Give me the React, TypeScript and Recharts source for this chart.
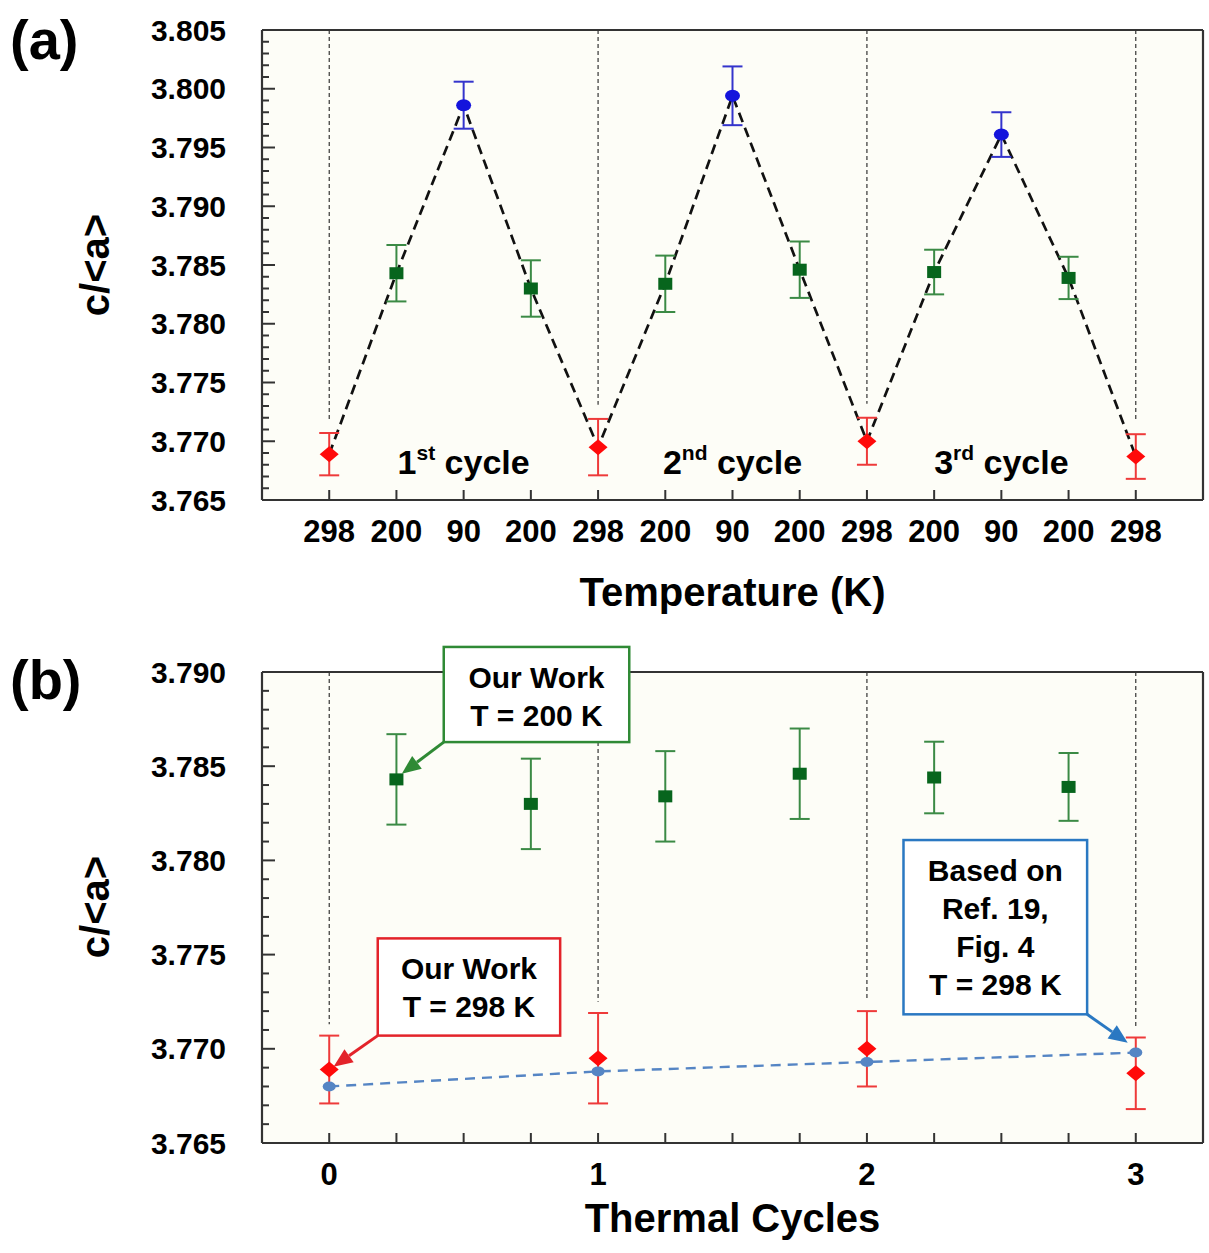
import React from 'react';
import {
  ComposedChart,
  Line,
  Scatter,
  XAxis,
  YAxis,
  ErrorBar,
  ReferenceLine,
  ReferenceArea,
  ReferenceDot,
  CartesianGrid,
} from 'recharts';

const FONT = '"Liberation Sans", Arial, Helvetica, sans-serif';

// ---------- data ----------
const tempLabels = ['298', '200', '90', '200', '298', '200', '90', '200', '298', '200', '90', '200', '298'];
const caValues = [3.7689, 3.7843, 3.7986, 3.783, 3.7695, 3.7834, 3.7994, 3.7846, 3.77, 3.7844, 3.7961, 3.7839, 3.7687];
const caErrors = [0.0018, 0.0024, 0.002, 0.0024, 0.0024, 0.0024, 0.0025, 0.0024, 0.002, 0.0019, 0.0019, 0.0018, 0.0019];

const topYTicks = [3.765, 3.77, 3.775, 3.78, 3.785, 3.79, 3.795, 3.8, 3.805];
const topYLabels = ['3.765', '3.770', '3.775', '3.780', '3.785', '3.790', '3.795', '3.800', '3.805'];
const bottomYTicks = [3.765, 3.77, 3.775, 3.78, 3.785, 3.79];
const bottomYLabels = ['3.765', '3.770', '3.775', '3.780', '3.785', '3.790'];

const cycleTicks = [0, 1, 2, 3];
const cycleTickLabels = ['0', '1', '2', '3'];
const cycles298 = [0, 1, 2, 3];
const cycles200 = [0.25, 0.75, 1.25, 1.75, 2.25, 2.75];
const refValues = [3.768, 3.7688, 3.7693, 3.7698];

const cycleNumbers = ['1', '2', '3'];
const cycleSuffixes = ['st', 'nd', 'rd'];
const cycleCenters = [2, 6, 10];

// ---------- derived tables ----------
const topData = tempLabels.map((t, i) => ({ idx: i, t, v: caValues[i], e: caErrors[i] }));
const top298 = topData.filter((d) => d.t === '298');
const top200 = topData.filter((d) => d.t === '200');
const top90 = topData.filter((d) => d.t === '90');

const bot298 = cycles298.map((x, i) => ({ idx: x, v: top298[i].v, e: top298[i].e }));
const bot200 = cycles200.map((x, i) => ({ idx: x, v: top200[i].v, e: top200[i].e }));
const botRef = cycles298.map((x, i) => ({ idx: x, v: refValues[i] }));

function minorTicks(lo: number, hi: number, step: number) {
  const out: number[] = [];
  const n = Math.round((hi - lo) / step);
  for (let i = 0; i <= n; i++) out.push(Math.round((lo + i * step) * 10000) / 10000);
  return out;
}
const topYAll = minorTicks(3.765, 3.805, 0.001);
const botYAll = minorTicks(3.765, 3.79, 0.001);
const botXAll = minorTicks(0, 3, 0.25);

// ---------- styles ----------
const AXIS = '#333333';
const AXIS_W = 2.2;
const RED = '#ff0a0a';
const RED_ERR = '#ee3a3a';
const GREEN = '#07651d';
const GREEN_ERR = '#3b8a45';
const BLUE = '#1414dc';
const BLUE_ERR = '#3434cc';
const REF_BLUE = '#5585c4';
const PLOT_BG = '#fdfdf7';

// ---------- shapes ----------
const Diamond = (p: any) => {
  const { cx, cy } = p;
  if (cx == null || cy == null) return null;
  return <polygon points={`${cx},${cy - 8} ${cx + 9.5},${cy} ${cx},${cy + 8} ${cx - 9.5},${cy}`} fill={RED} />;
};
const Square = (p: any) => {
  const { cx, cy } = p;
  if (cx == null || cy == null) return null;
  return <rect x={cx - 7} y={cy - 6} width={14} height={12} fill={GREEN} />;
};
const Circle = (p: any) => {
  const { cx, cy } = p;
  if (cx == null || cy == null) return null;
  return <ellipse cx={cx} cy={cy} rx={7.5} ry={6} fill={BLUE} />;
};
const RefDot = (p: any) => {
  const { cx, cy } = p;
  if (cx == null || cy == null) return null;
  return <ellipse cx={cx} cy={cy} rx={6.5} ry={5} fill={REF_BLUE} />;
};

// ---------- ticks ----------
const makeYLeftTick = (majors: number[], labels: string[]) => (props: any) => {
  const { x, y, payload } = props;
  const v = payload.value;
  const mi = majors.findIndex((m) => Math.abs(m - v) < 1e-7);
  const major = mi >= 0;
  return (
    <g>
      <line x1={x} y1={y} x2={x + (major ? 13 : 7)} y2={y} stroke={AXIS} strokeWidth={2} />
      {major && (
        <text x={x - 36} y={y} textAnchor="end" dominantBaseline="central" fontFamily={FONT} fontWeight="bold" fontSize={30} fill="#000">
          {labels[mi]}
        </text>
      )}
    </g>
  );
};
const makeYRightTick = (majors: number[]) => (props: any) => {
  const { x, y, payload } = props;
  const major = majors.some((m) => Math.abs(m - payload.value) < 1e-7);
  return <line x1={x} y1={y} x2={x - (major ? 13 : 7)} y2={y} stroke={AXIS} strokeWidth={2} />;
};
const makeXBottomTick = (labelFor: (v: number) => string | null) => (props: any) => {
  const { x, y, payload } = props;
  const lab = labelFor(payload.value);
  return (
    <g>
      <line x1={x} y1={y} x2={x} y2={y - 10} stroke={AXIS} strokeWidth={2} />
      {lab != null && (
        <text x={x} y={y + 42} textAnchor="middle" fontFamily={FONT} fontWeight="bold" fontSize={31} fill="#000">
          {lab}
        </text>
      )}
    </g>
  );
};
const XTopTick = (props: any) => {
  const { x, y } = props;
  return <line x1={x} y1={y} x2={x} y2={y + 10} stroke={AXIS} strokeWidth={2} />;
};

const dashedGuide = (p: any) => (
  <line x1={p.x1} y1={p.y1} x2={p.x2} y2={p.y2} stroke="#222" strokeWidth={1.1} strokeDasharray="4 3" />
);

const makeArrow = (color: string) => (p: any) => {
  const { x1, y1, x2, y2 } = p;
  if ([x1, y1, x2, y2].some((v) => v == null)) return null;
  const dx = x2 - x1;
  const dy = y2 - y1;
  const len = Math.sqrt(dx * dx + dy * dy);
  const ux = dx / len;
  const uy = dy / len;
  const hl = 19;
  const hw = 8;
  const bx = x2 - ux * hl;
  const by = y2 - uy * hl;
  return (
    <g>
      <line x1={x1} y1={y1} x2={bx} y2={by} stroke={color} strokeWidth={3} />
      <polygon points={`${x2},${y2} ${bx - uy * hw},${by + ux * hw} ${bx + uy * hw},${by - ux * hw}`} fill={color} />
    </g>
  );
};

const makeBox = (color: string, lines: string[]) => (p: any) => {
  const { x, y, width, height } = p;
  if (x == null) return null;
  return (
    <g>
      <rect x={x} y={y} width={width} height={height} fill="#ffffff" stroke={color} strokeWidth={2.5} />
      {lines.map((l, i) => (
        <text key={i} x={x + width / 2} y={y + 41 + i * 38} textAnchor="middle" fontFamily={FONT} fontWeight="bold" fontSize={30} fill="#000">
          {l}
        </text>
      ))}
    </g>
  );
};

const makeCycleLabel = (num: string, sup: string) => (p: any) => {
  const { cx, cy } = p;
  if (cx == null) return null;
  return (
    <text x={cx} y={cy} textAnchor="middle" fontFamily={FONT} fontWeight="bold" fontSize={34} fill="#000">
      {num}
      <tspan fontSize={21} dy={-14}>{sup}</tspan>
      <tspan dy={14}> cycle</tspan>
    </text>
  );
};

const titleStyle: React.CSSProperties = {
  position: 'absolute',
  fontFamily: FONT,
  fontWeight: 'bold',
  color: '#000',
  whiteSpace: 'nowrap',
  lineHeight: 1,
};

function TopChart() {
  return (
    <ComposedChart width={1209} height={630} margin={{ top: 0, right: 0, bottom: 0, left: 0 }}>
      <CartesianGrid fill={PLOT_BG} stroke="none" horizontal={false} vertical={false} />
      <XAxis
        xAxisId={0}
        dataKey="idx"
        type="number"
        orientation="bottom"
        height={130}
        domain={[-1, 13]}
        ticks={topData.map((d) => d.idx)}
        interval={0}
        tickSize={0}
        tickMargin={0}
        tickLine={false}
        axisLine={{ stroke: AXIS, strokeWidth: AXIS_W }}
        tick={makeXBottomTick((v) => tempLabels[v] ?? null)}
      />
      <XAxis
        xAxisId="t"
        dataKey="idx"
        type="number"
        orientation="top"
        height={30}
        domain={[-1, 13]}
        ticks={topData.map((d) => d.idx)}
        interval={0}
        tickSize={0}
        tickMargin={0}
        tickLine={false}
        axisLine={{ stroke: AXIS, strokeWidth: AXIS_W }}
        tick={XTopTick}
      />
      <YAxis
        yAxisId={0}
        dataKey="v"
        type="number"
        orientation="left"
        width={262}
        domain={[3.765, 3.805]}
        ticks={topYAll}
        interval={0}
        tickSize={0}
        tickMargin={0}
        tickLine={false}
        axisLine={{ stroke: AXIS, strokeWidth: AXIS_W }}
        tick={makeYLeftTick(topYTicks, topYLabels)}
      />
      <YAxis
        yAxisId="r"
        dataKey="v"
        type="number"
        orientation="right"
        width={6}
        domain={[3.765, 3.805]}
        ticks={topYAll}
        interval={0}
        tickSize={0}
        tickMargin={0}
        tickLine={false}
        axisLine={{ stroke: AXIS, strokeWidth: AXIS_W }}
        tick={makeYRightTick(topYTicks)}
      />
      {top298.map((d) => (
        <ReferenceLine
          key={'g' + d.idx}
          segment={[
            { x: d.idx, y: 3.805 },
            { x: d.idx, y: d.v + d.e + 0.0012 },
          ]}
          shape={dashedGuide}
        />
      ))}
      <Line
        data={topData}
        dataKey="v"
        stroke="#111"
        strokeWidth={2.7}
        strokeDasharray="10 6"
        dot={false}
        activeDot={false}
        isAnimationActive={false}
      />
      <Scatter data={top298} dataKey="v" shape={Diamond} isAnimationActive={false}>
        <ErrorBar dataKey="e" direction="y" width={10} stroke={RED_ERR} strokeWidth={2} />
      </Scatter>
      <Scatter data={top200} dataKey="v" shape={Square} isAnimationActive={false}>
        <ErrorBar dataKey="e" direction="y" width={10} stroke={GREEN_ERR} strokeWidth={2} />
      </Scatter>
      <Scatter data={top90} dataKey="v" shape={Circle} isAnimationActive={false}>
        <ErrorBar dataKey="e" direction="y" width={10} stroke={BLUE_ERR} strokeWidth={2} />
      </Scatter>
      {cycleCenters.map((c, i) => (
        <ReferenceDot key={'c' + i} x={c} y={3.7672} r={0} shape={makeCycleLabel(cycleNumbers[i], cycleSuffixes[i])} />
      ))}
    </ComposedChart>
  );
}

function BottomChart() {
  return (
    <ComposedChart width={1209} height={613} margin={{ top: 0, right: 0, bottom: 0, left: 0 }}>
      <CartesianGrid fill={PLOT_BG} stroke="none" horizontal={false} vertical={false} />
      <XAxis
        xAxisId={0}
        dataKey="idx"
        type="number"
        orientation="bottom"
        height={110}
        domain={[-0.25, 3.25]}
        ticks={botXAll}
        interval={0}
        tickSize={0}
        tickMargin={0}
        tickLine={false}
        axisLine={{ stroke: AXIS, strokeWidth: AXIS_W }}
        tick={makeXBottomTick((v) => {
          const i = cycleTicks.indexOf(v);
          return i >= 0 ? cycleTickLabels[i] : null;
        })}
      />
      <XAxis
        xAxisId="t"
        dataKey="idx"
        type="number"
        orientation="top"
        height={32}
        domain={[-0.25, 3.25]}
        ticks={botXAll}
        interval={0}
        tickSize={0}
        tickMargin={0}
        tickLine={false}
        axisLine={{ stroke: AXIS, strokeWidth: AXIS_W }}
        tick={XTopTick}
      />
      <YAxis
        yAxisId={0}
        dataKey="v"
        type="number"
        orientation="left"
        width={262}
        domain={[3.765, 3.79]}
        ticks={botYAll}
        interval={0}
        tickSize={0}
        tickMargin={0}
        tickLine={false}
        axisLine={{ stroke: AXIS, strokeWidth: AXIS_W }}
        tick={makeYLeftTick(bottomYTicks, bottomYLabels)}
      />
      <YAxis
        yAxisId="r"
        dataKey="v"
        type="number"
        orientation="right"
        width={6}
        domain={[3.765, 3.79]}
        ticks={botYAll}
        interval={0}
        tickSize={0}
        tickMargin={0}
        tickLine={false}
        axisLine={{ stroke: AXIS, strokeWidth: AXIS_W }}
        tick={makeYRightTick(bottomYTicks)}
      />
      {bot298.map((d) => (
        <ReferenceLine
          key={'g' + d.idx}
          segment={[
            { x: d.idx, y: 3.79 },
            { x: d.idx, y: d.v + d.e + 0.0006 },
          ]}
          shape={dashedGuide}
        />
      ))}
      <Scatter data={bot200} dataKey="v" shape={Square} isAnimationActive={false}>
        <ErrorBar dataKey="e" direction="y" width={10} stroke={GREEN_ERR} strokeWidth={2} />
      </Scatter>
      <Scatter data={bot298} dataKey="v" shape={Diamond} isAnimationActive={false}>
        <ErrorBar dataKey="e" direction="y" width={10} stroke={RED_ERR} strokeWidth={2} />
      </Scatter>
      <Line
        data={botRef}
        dataKey="v"
        stroke={REF_BLUE}
        strokeWidth={2.4}
        strokeDasharray="10 7"
        dot={RefDot}
        activeDot={false}
        isAnimationActive={false}
      />
      <ReferenceArea x1={0.426} x2={1.116} y1={3.78628} y2={3.79133} ifOverflow="visible" zIndex={2000} shape={makeBox('#2f8a35', ['Our Work', 'T = 200 K'])} />
      <ReferenceLine segment={[{ x: 0.426, y: 3.78628 }, { x: 0.27, y: 3.7846 }]} ifOverflow="visible" zIndex={2000} shape={makeArrow('#2f8a35')} />
      <ReferenceArea x1={0.1805} x2={0.859} y1={3.7707} y2={3.77586} ifOverflow="visible" zIndex={2000} shape={makeBox('#e3232a', ['Our Work', 'T = 298 K'])} />
      <ReferenceLine segment={[{ x: 0.1805, y: 3.7707 }, { x: 0.016, y: 3.76905 }]} ifOverflow="visible" zIndex={2000} shape={makeArrow('#e3232a')} />
      <ReferenceArea x1={2.136} x2={2.819} y1={3.77183} y2={3.78108} ifOverflow="visible" zIndex={2000} shape={makeBox('#2a78c2', ['Based on', 'Ref. 19,', 'Fig. 4', 'T = 298 K'])} />
      <ReferenceLine segment={[{ x: 2.819, y: 3.77183 }, { x: 2.97, y: 3.77032 }]} ifOverflow="visible" zIndex={2000} shape={makeArrow('#2a78c2')} />
    </ComposedChart>
  );
}

export default function App() {
  return (
    <div style={{ position: 'absolute', left: 0, top: 0, width: 1209, height: 1253, background: '#ffffff', overflow: 'hidden' }}>
      <div style={{ position: 'absolute', left: 0, top: 0 }}>
        <TopChart />
      </div>
      <div style={{ position: 'absolute', left: 0, top: 640 }}>
        <BottomChart />
      </div>
      <div style={{ ...titleStyle, left: 10, top: 12, fontSize: 56 }}>(a)</div>
      <div style={{ ...titleStyle, left: 10, top: 652, fontSize: 56 }}>(b)</div>
      <div style={{ ...titleStyle, left: 262, width: 941, top: 572, fontSize: 40, textAlign: 'center' }}>Temperature (K)</div>
      <div style={{ ...titleStyle, left: 262, width: 941, top: 1198, fontSize: 40, textAlign: 'center' }}>Thermal Cycles</div>
      <div
        style={{
          ...titleStyle,
          left: 95 - 100,
          width: 200,
          top: 265 - 20,
          fontSize: 40,
          textAlign: 'center',
          transform: 'rotate(-90deg)',
          transformOrigin: '100px 20px',
        }}
      >
        c/&lt;a&gt;
      </div>
      <div
        style={{
          ...titleStyle,
          left: 95 - 100,
          width: 200,
          top: 907 - 20,
          fontSize: 40,
          textAlign: 'center',
          transform: 'rotate(-90deg)',
          transformOrigin: '100px 20px',
        }}
      >
        c/&lt;a&gt;
      </div>
    </div>
  );
}
